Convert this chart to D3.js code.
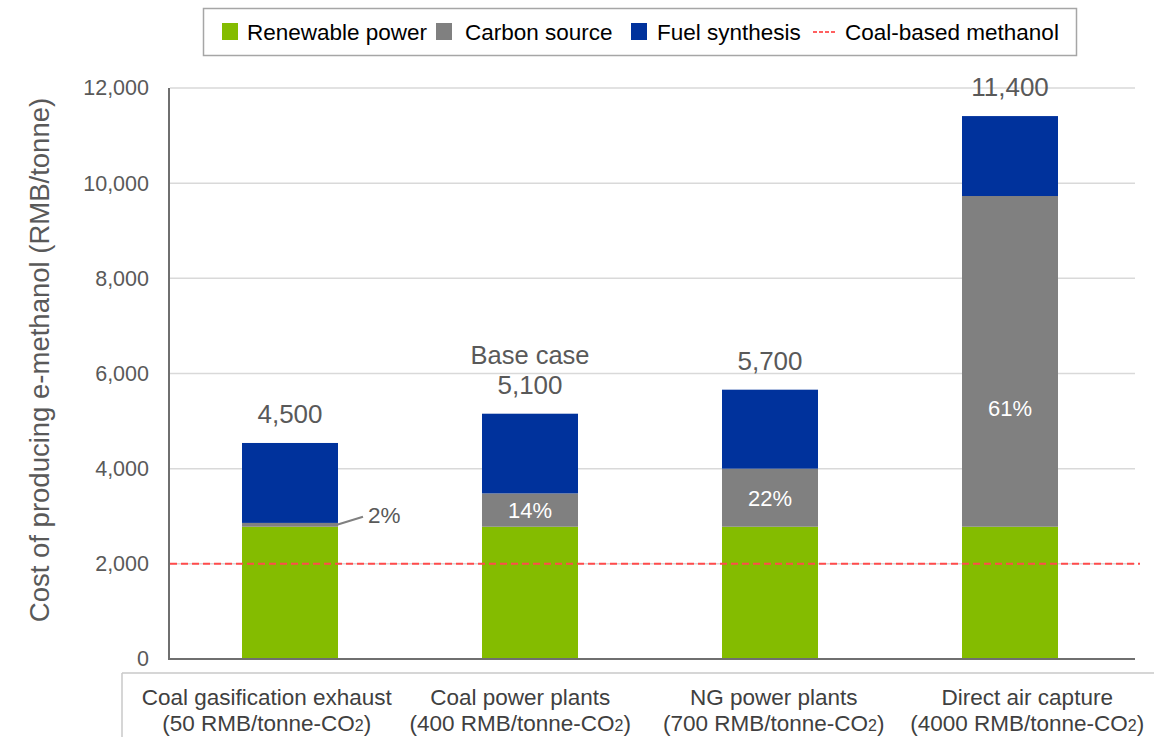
<!DOCTYPE html>
<html>
<head>
<meta charset="utf-8">
<script src="https://cdn.jsdelivr.net/npm/d3@7"></script>
<style>
  body { margin: 0; background: #fff; }
  text { font-family: "Liberation Sans", Arial, sans-serif; }
</style>
</head>
<body>
<div id="main"></div>
<script>
// data
const categories = ["Coal gasification exhaust", "Coal power plants", "NG power plants", "Direct air capture"];
const carbonPrices = ["50", "400", "700", "4000"];
const renewablePower = [2780, 2780, 2780, 2780];
const carbonSource = [80, 700, 1220, 6950];
const fuelSynthesis = [1680, 1675, 1660, 1680];
const totalLabels = ["4,500", "5,100", "5,700", "11,400"];
const shareLabels = ["2%", "14%", "22%", "61%"];
const seriesNames = ["Renewable power", "Carbon source", "Fuel synthesis"];
const coalMethanol = 2000;
const yTicks = [0, 2000, 4000, 6000, 8000, 10000, 12000];

const colors = { "Renewable power": "#84bc00", "Carbon source": "#808080", "Fuel synthesis": "#00329c" };

const w = 1154, h = 737;
const pLeft = 170, pRight = 1130, pTop = 88, pBottom = 659;

const svg = d3.select("#main").append("svg").attr("width", w).attr("height", h);

const x = d3.scaleBand().domain(categories).range([pLeft, pRight]).paddingInner(0.6).paddingOuter(0.3);
const y = d3.scaleLinear().domain([0, 12000]).range([pBottom, pTop]);
// the category labels sit in their own table-like strip below the plot
const xLab = d3.scaleBand().domain(categories).range([140, 1154]);

// gridlines
svg.append("g").selectAll("line").data(yTicks.filter(d => d > 0)).enter().append("line")
  .attr("x1", pLeft).attr("x2", 1135)
  .attr("y1", d => y(d)).attr("y2", d => y(d))
  .attr("stroke", "#d9d9d9").attr("stroke-width", 1.5);

// y axis
const yAxis = d3.axisLeft(y).tickValues(yTicks).tickFormat(d3.format(",")).tickSize(0).tickPadding(21);
const ya = svg.append("g").attr("transform", "translate(" + pLeft + ",0)").call(yAxis);
ya.select(".domain").remove();
ya.selectAll("text").attr("font-size", 21.5).attr("fill", "#595959")
  .style("font-family", '"Liberation Sans", Arial, sans-serif');

// stacked bars
const table = categories.map((c, i) => ({
  cat: c,
  "Renewable power": renewablePower[i],
  "Carbon source": carbonSource[i],
  "Fuel synthesis": fuelSynthesis[i]
}));
const stacked = d3.stack().keys(seriesNames)(table);

svg.append("g").selectAll("g").data(stacked).enter().append("g")
  .attr("fill", d => colors[d.key])
  .selectAll("rect").data(d => d).enter().append("rect")
  .attr("x", d => x(d.data.cat))
  .attr("width", x.bandwidth())
  .attr("y", d => y(d[1]))
  .attr("height", d => y(d[0]) - y(d[1]));

// axis lines
svg.append("line").attr("x1", pLeft - 1).attr("x2", pLeft - 1).attr("y1", pTop).attr("y2", pBottom + 1)
  .attr("stroke", "#6f6f6f").attr("stroke-width", 2);
svg.append("line").attr("x1", pLeft - 2).attr("x2", 1135).attr("y1", pBottom).attr("y2", pBottom)
  .attr("stroke", "#6f6f6f").attr("stroke-width", 2);

// coal-based methanol line
svg.append("line").attr("x1", pLeft).attr("x2", 1140)
  .attr("y1", y(coalMethanol)).attr("y2", y(coalMethanol))
  .attr("stroke", "#ff4b4b").attr("stroke-width", 2).attr("stroke-dasharray", "7,4");

// totals
const carbonLayer = stacked[1];
const fuelLayer = stacked[2];
svg.append("g").selectAll("text").data(fuelLayer).enter().append("text")
  .attr("x", d => x(d.data.cat) + x.bandwidth() / 2)
  .attr("y", d => y(d[1]) - 20)
  .attr("text-anchor", "middle").attr("font-size", 26).attr("fill", "#595959")
  .text((d, i) => totalLabels[i]);

svg.append("text")
  .attr("x", x(categories[1]) + x.bandwidth() / 2)
  .attr("y", y(fuelLayer[1][1]) - 50)
  .attr("text-anchor", "middle").attr("font-size", 25.5).attr("fill", "#595959")
  .text("Base case");

// share labels inside carbon segment
svg.append("g").selectAll("text").data(carbonLayer.slice(1)).enter().append("text")
  .attr("x", d => x(d.data.cat) + x.bandwidth() / 2)
  .attr("y", (d, i) => (i === 2 ? y(d[0] + (d[1] - d[0]) * 0.36) : y((d[0] + d[1]) / 2)) + 8)
  .attr("text-anchor", "middle").attr("font-size", 22).attr("fill", "#ffffff")
  .text((d, i) => shareLabels[i + 1]);

// 2% with leader line
const c0 = carbonLayer[0];
const bx = x(c0.data.cat) + x.bandwidth();
const by = y((c0[0] + c0[1]) / 2);
svg.append("line").attr("x1", bx - 1).attr("y1", by).attr("x2", bx + 25).attr("y2", by - 8)
  .attr("stroke", "#808080").attr("stroke-width", 2);
svg.append("text").attr("x", bx + 30).attr("y", by - 2)
  .attr("font-size", 22.5).attr("fill", "#595959").text(shareLabels[0]);

// y title
svg.append("text")
  .attr("transform", "translate(49,360) rotate(-90)")
  .attr("text-anchor", "middle").attr("font-size", 27.5).attr("fill", "#595959")
  .text("Cost of producing e-methanol (RMB/tonne)");

// category label box
svg.append("line").attr("x1", 122).attr("x2", w).attr("y1", 673).attr("y2", 673)
  .attr("stroke", "#c8c8c8").attr("stroke-width", 1.5);
svg.append("line").attr("x1", 122).attr("x2", 122).attr("y1", 673).attr("y2", h)
  .attr("stroke", "#c8c8c8").attr("stroke-width", 1.5);

const catG = svg.append("g").selectAll("g").data(categories).enter().append("g")
  .attr("transform", d => "translate(" + (xLab(d) + xLab.bandwidth() / 2) + ",0)");
catG.append("text").attr("y", 705).attr("text-anchor", "middle")
  .attr("font-size", 22.5).attr("fill", "#404040").text(d => d);
const line2 = catG.append("text").attr("y", 731).attr("text-anchor", "middle")
  .attr("font-size", 22.5).attr("fill", "#404040");
line2.append("tspan").text((d, i) => "(" + carbonPrices[i] + " RMB/tonne-CO");
line2.append("tspan").attr("font-size", 16).text("2");
line2.append("tspan").text(")");

// legend
const lg = svg.append("g");
lg.append("rect").attr("x", 203.5).attr("y", 8.5).attr("width", 873).attr("height", 47)
  .attr("fill", "#fff").attr("stroke", "#a6a6a6").attr("stroke-width", 1.5);
const legendItems = [
  { name: seriesNames[0], sx: 222, tx: 247 },
  { name: seriesNames[1], sx: 436, tx: 465 },
  { name: seriesNames[2], sx: 631, tx: 657 },
  { name: "Coal-based methanol", sx: 813, tx: 845, line: true }
];
legendItems.forEach(it => {
  if (it.line) {
    lg.append("line").attr("x1", it.sx).attr("x2", it.sx + 22).attr("y1", 32).attr("y2", 32)
      .attr("stroke", "#ff6060").attr("stroke-width", 2).attr("stroke-dasharray", "4,2");
  } else {
    lg.append("rect").attr("x", it.sx).attr("y", 23).attr("width", 16).attr("height", 17)
      .attr("fill", colors[it.name]);
  }
  lg.append("text").attr("x", it.tx).attr("y", 40).attr("font-size", 22.5).attr("fill", "#000")
    .text(it.name);
});
</script>
</body>
</html>
